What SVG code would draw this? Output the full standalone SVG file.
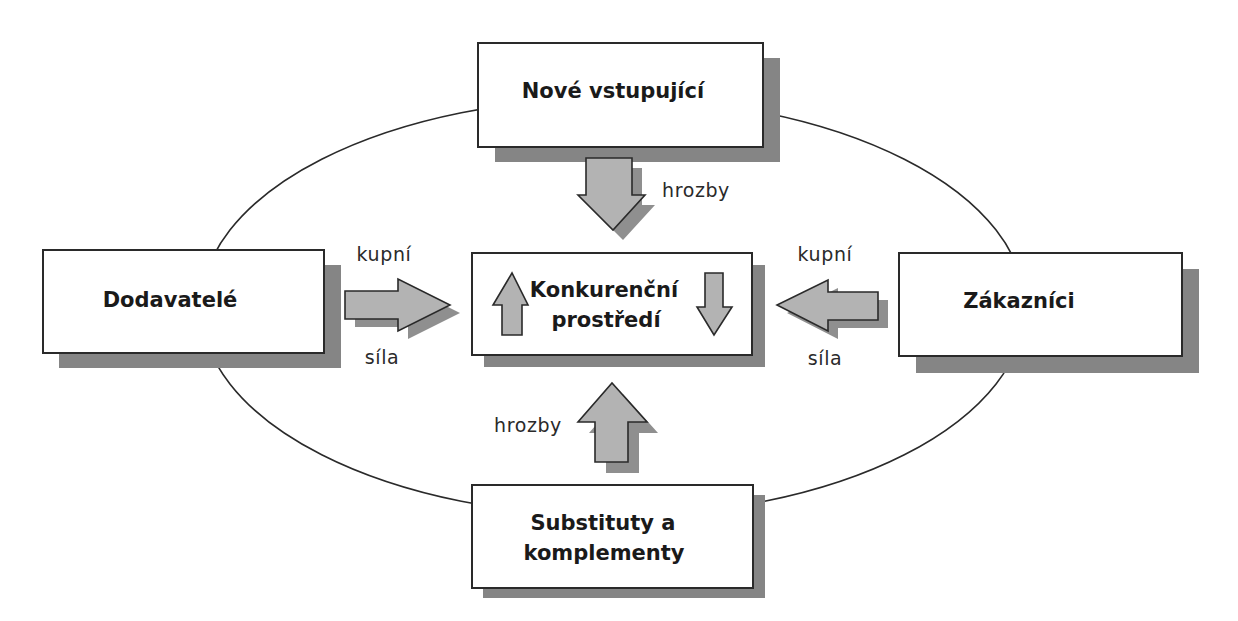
<svg xmlns="http://www.w3.org/2000/svg" width="1238" height="621" viewBox="0 0 1238 621">
<style>
.shadow{fill:#858585}
.box{fill:#ffffff;stroke:#2a2a2a;stroke-width:2}
.lbl{font-family:"DejaVu Sans","Verdana",sans-serif;font-weight:bold;font-size:21px;fill:#1a1a1a;text-anchor:middle}
.small{font-family:"DejaVu Sans","Verdana",sans-serif;font-size:19px;fill:#2a2a2a;text-anchor:middle;letter-spacing:0.6px}
.arrow{fill:#b3b3b3;stroke:#2a2a2a;stroke-width:1.6;stroke-linejoin:miter}
.ashadow{fill:#8f8f8f}
.ring{fill:none;stroke:#2a2a2a;stroke-width:1.6}
</style>
<rect x="0" y="0" width="1238" height="621" fill="#ffffff"/>
<g id="ring">
<ellipse class="ring" cx="613" cy="307" rx="412" ry="209"/>
</g>
<g id="node-nove">
<rect class="shadow" x="495" y="58" width="285" height="104"/>
<rect class="box" x="478" y="43" width="285" height="104"/>
<text class="lbl" x="613" y="98">Nové vstupující</text>
</g>
<g id="node-dodavatele">
<rect class="shadow" x="59" y="265" width="282" height="103"/>
<rect class="box" x="43" y="250" width="281" height="103"/>
<text class="lbl" x="170" y="307">Dodavatelé</text>
</g>
<g id="node-konkurencni">
<rect class="shadow" x="484" y="265" width="281" height="102"/>
<rect class="box" x="472" y="253" width="280" height="102"/>
<text class="lbl" x="604" y="297">Konkurenční</text>
<text class="lbl" x="606" y="327">prostředí</text>
</g>
<g id="node-zakaznici">
<rect class="shadow" x="916" y="269" width="283" height="104"/>
<rect class="box" x="899" y="253" width="283" height="103"/>
<text class="lbl" x="1019" y="308">Zákazníci</text>
</g>
<g id="node-substituty">
<rect class="shadow" x="483" y="495" width="282" height="103"/>
<rect class="box" x="472" y="485" width="281" height="103"/>
<text class="lbl" x="603" y="530">Substituty a</text>
<text class="lbl" x="604" y="560">komplementy</text>
</g>
<g id="connectors">
<path class="ashadow" transform="translate(10,10)" d="M586,158 H632 V195 H645 L613,230 L578,195 H586 Z"/>
<path class="arrow" d="M586,158 H632 V195 H645 L613,230 L578,195 H586 Z"/>
<path class="ashadow" transform="translate(10,8)" d="M345,291 H398 V279 L450,305 L398,331 V319 H345 Z"/>
<path class="arrow" d="M345,291 H398 V279 L450,305 L398,331 V319 H345 Z"/>
<path class="ashadow" transform="translate(10,8)" d="M878,292 H828 V280 L777,305 L828,331 V320 H878 Z"/>
<path class="arrow" d="M878,292 H828 V280 L777,305 L828,331 V320 H878 Z"/>
<path class="ashadow" transform="translate(11,11)" d="M595,462 V422 H578 L612,383 L647,422 H628 V462 Z"/>
<path class="arrow" d="M595,462 V422 H578 L612,383 L647,422 H628 V462 Z"/>
<path class="arrow" d="M502,335 V305 H493 L512,273 L528,305 H522 V335 Z"/>
<path class="arrow" d="M705,273 H723 V307 H732 L714,335 L697,307 H705 Z"/>
<text class="small" x="696" y="197">hrozby</text>
<text class="small" x="528" y="432">hrozby</text>
<text class="small" x="384" y="261">kupní</text>
<text class="small" x="382" y="364">síla</text>
<text class="small" x="825" y="261">kupní</text>
<text class="small" x="825" y="365">síla</text>
</g>
</svg>
